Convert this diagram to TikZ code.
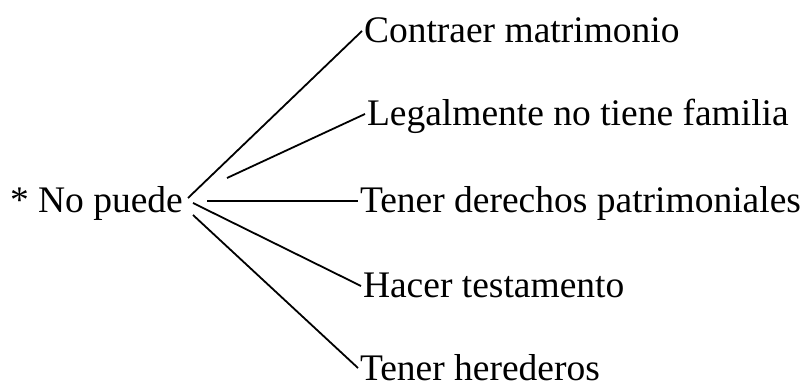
\documentclass[tikz,border=0pt]{standalone}
\usepackage{fontspec}
\setmainfont{Liberation Serif}
\begin{document}
\begin{tikzpicture}[x=1pt,y=-1pt,
  lbl/.style={anchor=west,inner sep=0pt,outer xsep=2pt,text height=24pt,text depth=0pt,font=\fontsize{37.5}{40}\selectfont},
  conn/.style={line width=1.8pt}]
\useasboundingbox (0,0) rectangle (807,385);
\node[lbl] (np) at (8,201) {* No puede};
\node[lbl] (a) at (362,31) {Contraer matrimonio};
\node[lbl] (b) at (365,114) {Legalmente no tiene familia};
\node[lbl] (c) at (358,201) {Tener derechos patrimoniales};
\node[lbl] (d) at (361,286) {Hacer testamento};
\node[lbl] (e) at (358,368) {Tener herederos};
\coordinate (s1) at (188,198);
\coordinate (s2) at (227,178);
\coordinate (s3) at (207,201);
\coordinate (s4) at (193,203);
\coordinate (s5) at (193,215);
\draw[conn] (s1) -- (a.west);
\draw[conn] (s2) -- (b.west);
\draw[conn] (s3) -- (c.west);
\draw[conn] (s4) -- (d.west);
\draw[conn] (s5) -- (e.west);
\end{tikzpicture}
\end{document}
